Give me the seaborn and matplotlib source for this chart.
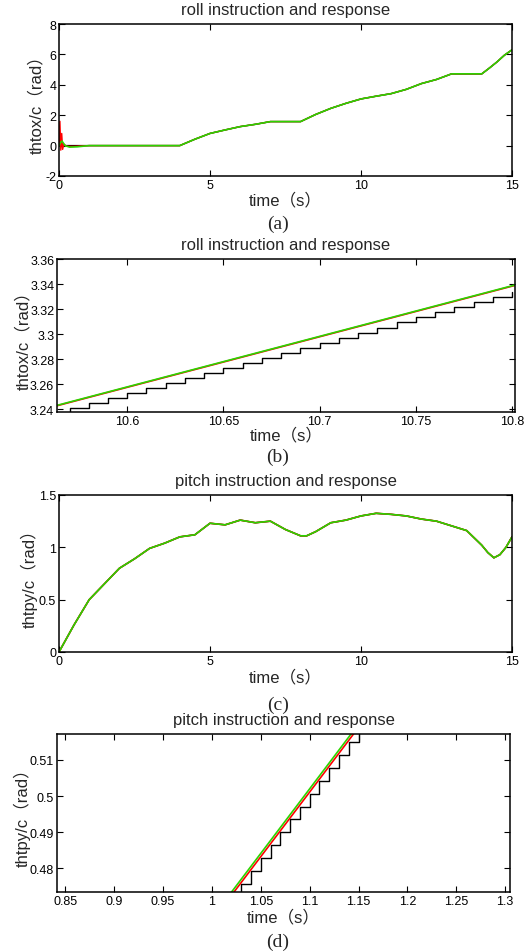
import numpy as np
import matplotlib
matplotlib.use('Agg')
import matplotlib.pyplot as plt
import seaborn as sns

# ---- (a) roll, full run ----
roll_t = [1, 2, 3, 4, 4.5, 5, 5.5, 6, 6.5, 7, 8, 8.5, 9, 9.5, 10, 10.5, 11,
          11.5, 12, 12.5, 13, 14, 14.25, 14.5, 14.75, 15]
roll_y = [0, 0, 0, 0, 0.42, 0.8, 1.03, 1.25, 1.4, 1.58, 1.58, 2.05, 2.45, 2.78,
          3.07, 3.25, 3.42, 3.7, 4.08, 4.35, 4.72, 4.72, 5.1, 5.5, 5.95, 6.3]
# start-up transients
roll_cmd_t0 = [0, 0.5]
roll_cmd_y0 = [0, 0]
roll_red_t0 = [0, 0.03, 0.06, 0.09, 0.12, 0.16, 0.25, 0.5]
roll_red_y0 = [0, 1.6, -0.3, 0.8, -0.25, 0.1, -0.05, -0.05]
roll_grn_t0 = [0, 0.05, 0.1, 0.2, 0.35, 0.6]
roll_grn_y0 = [0, 0.2, 0.3, 0.0, -0.1, -0.08]

# ---- (b) roll, zoom 10.56-10.80 s ----
rollz_step_t = [10.56, 10.57, 10.58, 10.59, 10.60, 10.61, 10.62, 10.63, 10.64,
                10.65, 10.66, 10.67, 10.68, 10.69, 10.70, 10.71, 10.72, 10.73,
                10.74, 10.75, 10.76, 10.77, 10.78, 10.79, 10.80]
rollz_step_y = [3.2365, 3.2405, 3.2446, 3.2486, 3.2527, 3.2567, 3.2608, 3.2648,
                3.2689, 3.2729, 3.2770, 3.2810, 3.2851, 3.2891, 3.2932, 3.2972,
                3.3013, 3.3053, 3.3094, 3.3134, 3.3175, 3.3215, 3.3256, 3.3296,
                3.3337]
rollz_t = [10.56, 10.68, 10.81]
rollz_red = [3.2412, 3.2898, 3.3425]
rollz_grn = [3.2415, 3.2901, 3.3428]

# ---- (c) pitch, full run ----
pitch_t = [0, 0.5, 1, 1.5, 2, 2.5, 3, 3.5, 4, 4.5, 5, 5.5, 6, 6.5, 7, 7.5, 8,
           8.2, 8.5, 9, 9.5, 10, 10.5, 11, 11.5, 12, 12.5, 13, 13.5, 14, 14.2,
           14.4, 14.6, 14.8, 15]
pitch_y = [0, 0.26, 0.5, 0.65, 0.8, 0.89, 0.99, 1.04, 1.1, 1.12, 1.23, 1.215,
           1.26, 1.235, 1.25, 1.17, 1.11, 1.11, 1.15, 1.235, 1.26, 1.3, 1.325,
           1.315, 1.3, 1.27, 1.25, 1.205, 1.16, 1.02, 0.95, 0.9, 0.93, 1.0, 1.1]

# ---- (d) pitch, zoom 0.84-1.31 s ----
pitchz_step_t = [1.02, 1.03, 1.04, 1.05, 1.06, 1.07, 1.08, 1.09, 1.10, 1.11,
                 1.12, 1.13, 1.14, 1.15, 1.16]
pitchz_step_y = [0.4719, 0.4755, 0.4791, 0.4827, 0.4863, 0.4899, 0.4935, 0.4971,
                 0.5007, 0.5043, 0.5079, 0.5115, 0.5151, 0.5187, 0.5223]
pitchz_t = [1.00, 1.10, 1.17]
pitchz_red = [0.4653, 0.5011, 0.5262]
pitchz_grn = [0.4662, 0.5020, 0.5271]

titles = ['roll instruction and response', 'roll instruction and response',
          'pitch instruction and response', 'pitch instruction and response']
ylabels = ['thtox/c（rad）', 'thtox/c（rad）', 'thtpy/c（rad）', 'thtpy/c（rad）']
captions = ['(a)', '(b)', '(c)', '(d)']

sns.set_style('ticks')
plt.rcParams['font.family'] = ['Liberation Sans', 'Noto Sans CJK SC', 'DejaVu Sans']
plt.rcParams['axes.unicode_minus'] = False

W, H = 526, 953
fig = plt.figure(figsize=(W / 100, H / 100), dpi=100)

# axes boxes in pixels: left, top, right, bottom
boxes = [(59, 25, 512, 177), (57, 260, 515, 413),
         (59, 496, 512, 653), (57, 735, 510, 893)]
axes = []
for (l, t, r, b) in boxes:
    axes.append(fig.add_axes([l / W, 1 - b / H, (r - l) / W, (b - t) / H]))

RED = '#ff0000'
GRN = '#2bd400'

# (a)
ax = axes[0]
sns.lineplot(x=roll_cmd_t0 + roll_t, y=roll_cmd_y0 + roll_y, color='k', lw=1.0, ax=ax)
sns.lineplot(x=roll_red_t0 + roll_t, y=roll_red_y0 + roll_y, color=RED, lw=1.0, ax=ax)
sns.lineplot(x=roll_grn_t0 + roll_t, y=roll_grn_y0 + roll_y, color=GRN, lw=1.2, ax=ax)
ax.set_xlim(0, 15)
ax.set_ylim(-2, 8)
ax.set_xticks([0, 5, 10, 15])
ax.set_yticks([-2, 0, 2, 4, 6, 8])

# (b)
ax = axes[1]
sns.lineplot(x=rollz_step_t, y=rollz_step_y, color='k', lw=1.0, drawstyle='steps-post', ax=ax)
sns.lineplot(x=rollz_t, y=rollz_red, color=RED, lw=1.2, ax=ax)
sns.lineplot(x=rollz_t, y=rollz_grn, color=GRN, lw=1.2, ax=ax)
ax.set_xlim(10.5635, 10.8015)
ax.set_ylim(3.2376, 3.3602)
ax.set_xticks([10.6, 10.65, 10.7, 10.75, 10.8])
ax.set_xticklabels(['10.6', '10.65', '10.7', '10.75', '10.8'])
ax.set_yticks([3.24, 3.26, 3.28, 3.3, 3.32, 3.34, 3.36])
ax.set_yticklabels(['3.24', '3.26', '3.28', '3.3', '3.32', '3.34', '3.36'])

# (c)
ax = axes[2]
sns.lineplot(x=pitch_t, y=pitch_y, color='k', lw=1.0, ax=ax)
sns.lineplot(x=pitch_t, y=pitch_y, color=RED, lw=1.2, ax=ax)
sns.lineplot(x=pitch_t, y=pitch_y, color=GRN, lw=1.2, ax=ax)
ax.set_xlim(0, 15)
ax.set_ylim(0, 1.5)
ax.set_xticks([0, 5, 10, 15])
ax.set_yticks([0, 0.5, 1, 1.5])
ax.set_yticklabels(['0', '0.5', '1', '1.5'])

# (d)
ax = axes[3]
sns.lineplot(x=pitchz_step_t, y=pitchz_step_y, color='k', lw=1.0, drawstyle='steps-post', ax=ax)
sns.lineplot(x=pitchz_t, y=pitchz_red, color=RED, lw=1.2, ax=ax)
sns.lineplot(x=pitchz_t, y=pitchz_grn, color=GRN, lw=1.2, ax=ax)
ax.set_xlim(0.8415, 1.305)
ax.set_ylim(0.4734, 0.5172)
xt = [0.85, 0.9, 0.95, 1.0, 1.05, 1.1, 1.15, 1.2, 1.25, 1.3]
ax.set_xticks(xt)
ax.set_xticklabels(['0.85', '0.9', '0.95', '1', '1.05', '1.1', '1.15', '1.2', '1.25', '1.3'])
ax.set_yticks([0.48, 0.49, 0.5, 0.51])
ax.set_yticklabels(['0.48', '0.49', '0.5', '0.51'])

caption_y = [224, 457, 705, 942]
xlabel_pad = [0.5, 0, 1, 1]
ylabel_pad = [1, -1, 1, -0.5]
for i, ax in enumerate(axes):
    ax.set_title(titles[i], fontsize=12, pad=7.5)
    ax.set_xlabel('time（s）', fontsize=12, labelpad=xlabel_pad[i])
    ax.set_ylabel(ylabels[i], fontsize=12, labelpad=ylabel_pad[i])
    ax.tick_params(direction='in', length=4, width=0.8, labelsize=9, pad=2,
                   top=True, right=True, colors='k')
    for sp in ax.spines.values():
        sp.set_visible(True)
        sp.set_linewidth(1.1)
        sp.set_color('k')
    fig.text(278 / W, 1 - caption_y[i] / H, captions[i], ha='center', va='center',
             fontsize=14, family='Liberation Serif')

fig.savefig('out.png', dpi=100)
